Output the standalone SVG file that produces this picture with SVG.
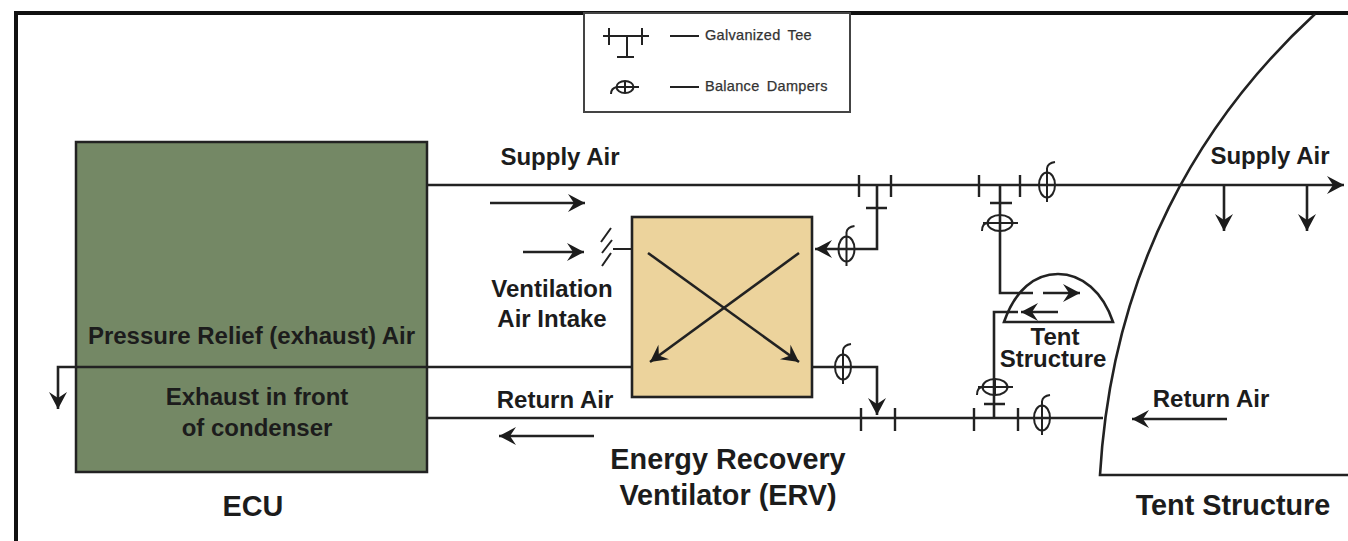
<svg xmlns="http://www.w3.org/2000/svg" width="1348" height="541" viewBox="0 0 1348 541">
<style>
.l{fill:none;stroke:#222;stroke-width:2.6}
.t{stroke:#222;stroke-width:2.4;fill:none}
.d{fill:none;stroke:#222;stroke-width:2}
.txt{font-family:"Liberation Sans",Arial,sans-serif;font-weight:bold;fill:#1c1c1c;text-anchor:middle}
.s{font-size:24px}
.m{font-size:28.8px}
.g{font-family:"Liberation Sans",Arial,sans-serif;font-size:14.5px;fill:#333;letter-spacing:.3px;word-spacing:3px;stroke:#333;stroke-width:.25}
</style>
<defs>
<marker id="a" markerUnits="userSpaceOnUse" markerWidth="20" markerHeight="20" refX="19" refY="10" orient="auto" viewBox="0 0 20 20"><path d="M2 1L19 10L2 19L8 10Z" fill="#1c1c1c"/></marker>
<g id="dv"><ellipse cx="0" cy="0" rx="8" ry="12.5" class="d"/><path d="M0-17V17M0-17Q1-22 8-23M-8 0H8" class="d"/></g>
<g id="dh"><ellipse cx="0" cy="0" rx="12.5" ry="8" class="d"/><path d="M-17 0H18M0-8V8M-12 0Q-18 0-18 8" class="d"/></g>
</defs>
<rect width="1348" height="541" fill="#fff"/>
<g id="frame"><path d="M16 541V13H1348" fill="none" stroke="#111" stroke-width="4"/></g>
<g id="legend">
<rect x="584" y="13" width="266" height="99" fill="#fff" stroke="#444" stroke-width="2"/>
<path d="M603 36H649M609 28V45M642 28V45M627 36V57M617 57H634M670 36H699M670 87H699" class="d"/>
<ellipse cx="625" cy="87" rx="8.5" ry="6" class="d"/><path d="M617 87H639M625 81V93M617 87Q611 88 611 94" class="d"/>
<text x="705" y="40" class="g">Galvanized Tee</text>
<text x="705" y="91" class="g">Balance Dampers</text>
</g>
<g id="ecu">
<rect x="76" y="142" width="351" height="330" fill="#748865" stroke="#222" stroke-width="2.5"/>
<text x="251.500" y="344" class="txt s">Pressure Relief (exhaust) Air</text>
<text x="257" y="405" class="txt s">Exhaust in front</text>
<text x="257" y="436" class="txt s">of condenser</text>
<text x="253" y="516" class="txt m">ECU</text>
</g>
<g id="erv">
<rect x="632" y="217" width="180" height="180" fill="#ecd39c" stroke="#222" stroke-width="2.6"/>
<path d="M648 253L799 362" class="l" marker-end="url(#a)"/>
<path d="M799 253L650 362" class="l" marker-end="url(#a)"/>
<text x="728" y="469" class="txt m">Energy Recovery</text>
<text x="728" y="505" class="txt m">Ventilator (ERV)</text>
</g>
<g id="tent-small">
<path d="M1004 322C1015 290 1035 274 1058 274C1082 274 1103 292 1113 322Z" class="l"/>
<text x="1055" y="345" class="txt s">Tent</text>
<text x="1053" y="367" class="txt s">Structure</text>
</g>
<g id="tent-large">
<path d="M1315 14C1200 120 1112 270 1100 475H1348" class="l"/>
<text x="1233" y="515" class="txt m">Tent Structure</text>
</g>
<g id="connectors">
<path d="M428 185H1344" class="l" marker-end="url(#a)"/>
<path d="M490 203H585" class="l" marker-end="url(#a)"/>
<path d="M523 252H584" class="l" marker-end="url(#a)"/>
<path d="M613 249H632M601 242L611 228M602 253L612 240M602 266L611 253" class="d"/>
<path d="M877 186V249H815" class="l" marker-end="url(#a)"/>
<path d="M812 367H877V415" class="l" marker-end="url(#a)"/>
<path d="M1000 186V293H1033" class="l"/>
<path d="M1043 293H1080" class="l" marker-end="url(#a)"/>
<path d="M1058 312H1021" class="l" marker-end="url(#a)"/>
<path d="M1018 312H994V418" class="l"/>
<path d="M632 367H58V409" class="l" marker-end="url(#a)"/>
<path d="M428 418H1103" class="l"/>
<path d="M594 436H499" class="l" marker-end="url(#a)"/>
<path d="M1227 419H1132" class="l" marker-end="url(#a)"/>
<path d="M1224 186V231" class="l" marker-end="url(#a)"/>
<path d="M1307 186V231" class="l" marker-end="url(#a)"/>
<path d="M859 175V197M891 175V197M979 175V197M1020 175V197M866 208H887M990 203H1012M861 408V431M895 408V431M974 408V431M1018 408V431M984 404H1005" class="t"/>
<use href="#dv" x="846.500" y="249"/><use href="#dv" x="1047" y="185"/><use href="#dv" x="843" y="367"/><use href="#dv" x="1042" y="418"/>
<use href="#dh" x="1000" y="223"/><use href="#dh" x="995" y="387"/>
</g>
<g id="labels">
<text x="560" y="165" class="txt s">Supply Air</text>
<text x="1270" y="164" class="txt s">Supply Air</text>
<text x="552" y="297" class="txt s">Ventilation</text>
<text x="552" y="327" class="txt s">Air Intake</text>
<text x="555" y="408" class="txt s">Return Air</text>
<text x="1211" y="407" class="txt s">Return Air</text>
</g>
</svg>
